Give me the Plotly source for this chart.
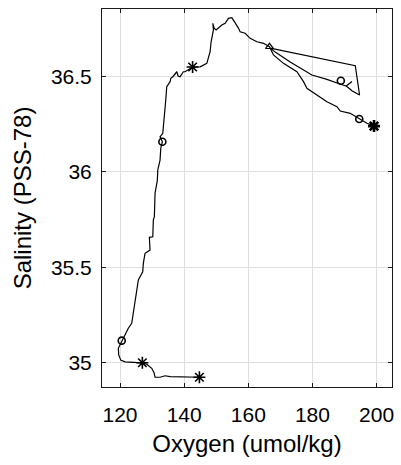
import plotly.graph_objects as go

# Main profile trace (oxygen, salinity)
oxygen = [144.75, 139.76, 135.61, 134.04, 132.48, 130.92, 130.61, 129.89, 128.33, 126.96,
          124.15, 121.56, 120.22, 119.59, 119.47, 120.22, 120.53, 121.56, 122.09, 122.59,
          123.65, 124.15, 124.68, 125.10, 125.71, 126.24, 127.08, 127.27, 127.80, 129.36,
          129.14, 130.21, 130.39, 130.71, 130.92, 130.92, 131.64, 131.77, 132.48, 132.70,
          133.20, 132.48, 133.33, 133.73, 134.04, 134.26, 134.57, 135.39, 135.61, 135.83,
          136.46, 137.70, 138.10, 138.73, 139.76, 140.29, 142.63, 144.97, 147.06, 148.09,
          148.40, 149.12, 148.93, 149.34, 149.96, 151.74, 152.77, 153.80, 154.86, 155.36,
          156.42, 156.92, 157.45, 159.01, 160.57, 162.66, 164.73, 166.60, 167.85, 170.97,
          175.15, 177.21, 178.27, 181.39, 184.51, 187.63, 188.66, 191.78, 194.59, 196.99,
          199.20]
salinity = [34.923, 34.923, 34.926, 34.931, 34.923, 34.923, 34.947, 34.970, 34.991, 34.999,
            35.001, 35.004, 35.013, 35.040, 35.075, 35.101, 35.115, 35.144, 35.171, 35.180,
            35.206, 35.258, 35.328, 35.380, 35.433, 35.450, 35.476, 35.520, 35.573, 35.590,
            35.657, 35.660, 35.748, 35.765, 35.852, 35.888, 35.957, 36.010, 36.062, 36.123,
            36.158, 36.184, 36.202, 36.263, 36.324, 36.377, 36.447, 36.473, 36.473, 36.491,
            36.499, 36.525, 36.503, 36.499, 36.525, 36.525, 36.550, 36.551, 36.569, 36.630,
            36.682, 36.744, 36.779, 36.754, 36.744, 36.770, 36.779, 36.805, 36.809, 36.796,
            36.770, 36.754, 36.735, 36.727, 36.700, 36.682, 36.674, 36.656, 36.613, 36.569,
            36.525, 36.473, 36.438, 36.403, 36.368, 36.342, 36.319, 36.307, 36.277, 36.255,
            36.240]

# Secondary loop near the surface
loop_oxygen = [192.32, 190.54, 189.00, 187.63, 184.51, 179.83, 173.06, 168.38, 166.82,
               193.35, 194.69, 192.41, 190.54]
loop_salinity = [36.474, 36.450, 36.458, 36.467, 36.485, 36.508, 36.576, 36.628, 36.649,
                 36.557, 36.403, 36.424, 36.450]

# Markers
star_oxygen = [144.75, 126.96, 142.63, 199.20]
star_salinity = [34.923, 34.999, 36.550, 36.240]
star_width = [1.6, 1.6, 1.6, 2.6]
circle_oxygen = [120.53, 133.20, 188.85, 194.59]
circle_salinity = [35.115, 36.158, 36.478, 36.277]
tri_oxygen = [166.60]
tri_salinity = [36.656]

x_ticks = [120, 140, 160, 180, 200]
y_ticks = [35, 35.5, 36, 36.5]
y_ticktext = ["35", "35.5", "36", "36.5"]

fig = go.Figure()
fig.add_trace(go.Scatter(x=oxygen, y=salinity, mode="lines",
                         line=dict(color="black", width=1.2)))
fig.add_trace(go.Scatter(x=loop_oxygen, y=loop_salinity, mode="lines",
                         line=dict(color="black", width=1.2)))
fig.add_trace(go.Scatter(x=star_oxygen, y=star_salinity, mode="markers",
                         marker=dict(symbol="asterisk-open", size=10, color="black",
                                     line=dict(color="black", width=star_width))))
fig.add_trace(go.Scatter(x=circle_oxygen, y=circle_salinity, mode="markers",
                         marker=dict(symbol="circle-open", size=7, color="black",
                                     line=dict(color="black", width=1.6))))
fig.add_trace(go.Scatter(x=tri_oxygen, y=tri_salinity, mode="markers",
                         marker=dict(symbol="triangle-up-open", size=7, color="black",
                                     line=dict(color="black", width=1.2))))

axis_common = dict(showgrid=True, gridcolor="#dedede", gridwidth=1, zeroline=False,
                   showline=True, linecolor="#1a1a1a", linewidth=1, mirror="ticks",
                   ticks="inside", ticklen=4, tickcolor="#1a1a1a", automargin=False,
                   tickfont=dict(size=21, color="black"))

fig.update_layout(
    width=401, height=465,
    margin=dict(l=102, r=9.3, t=9, b=78),
    plot_bgcolor="white", paper_bgcolor="white",
    showlegend=False,
    font=dict(family="Liberation Sans, Arial, sans-serif", color="black"),
    xaxis=dict(range=[114.38, 204.8], tickvals=x_ticks, ticklabelstandoff=9,
               title=dict(text="Oxygen (umol/kg)", font=dict(size=24), standoff=9),
               **axis_common),
    yaxis=dict(range=[34.872, 36.854], tickvals=y_ticks, ticktext=y_ticktext,
               ticklabelstandoff=5,
               title=dict(text="Salinity (PSS-78)", font=dict(size=24), standoff=12),
               **axis_common),
)

fig.write_html("out.html",
               config={"displayModeBar": False},
               post_script="document.body.style.margin='0';document.body.style.overflow='hidden';")
